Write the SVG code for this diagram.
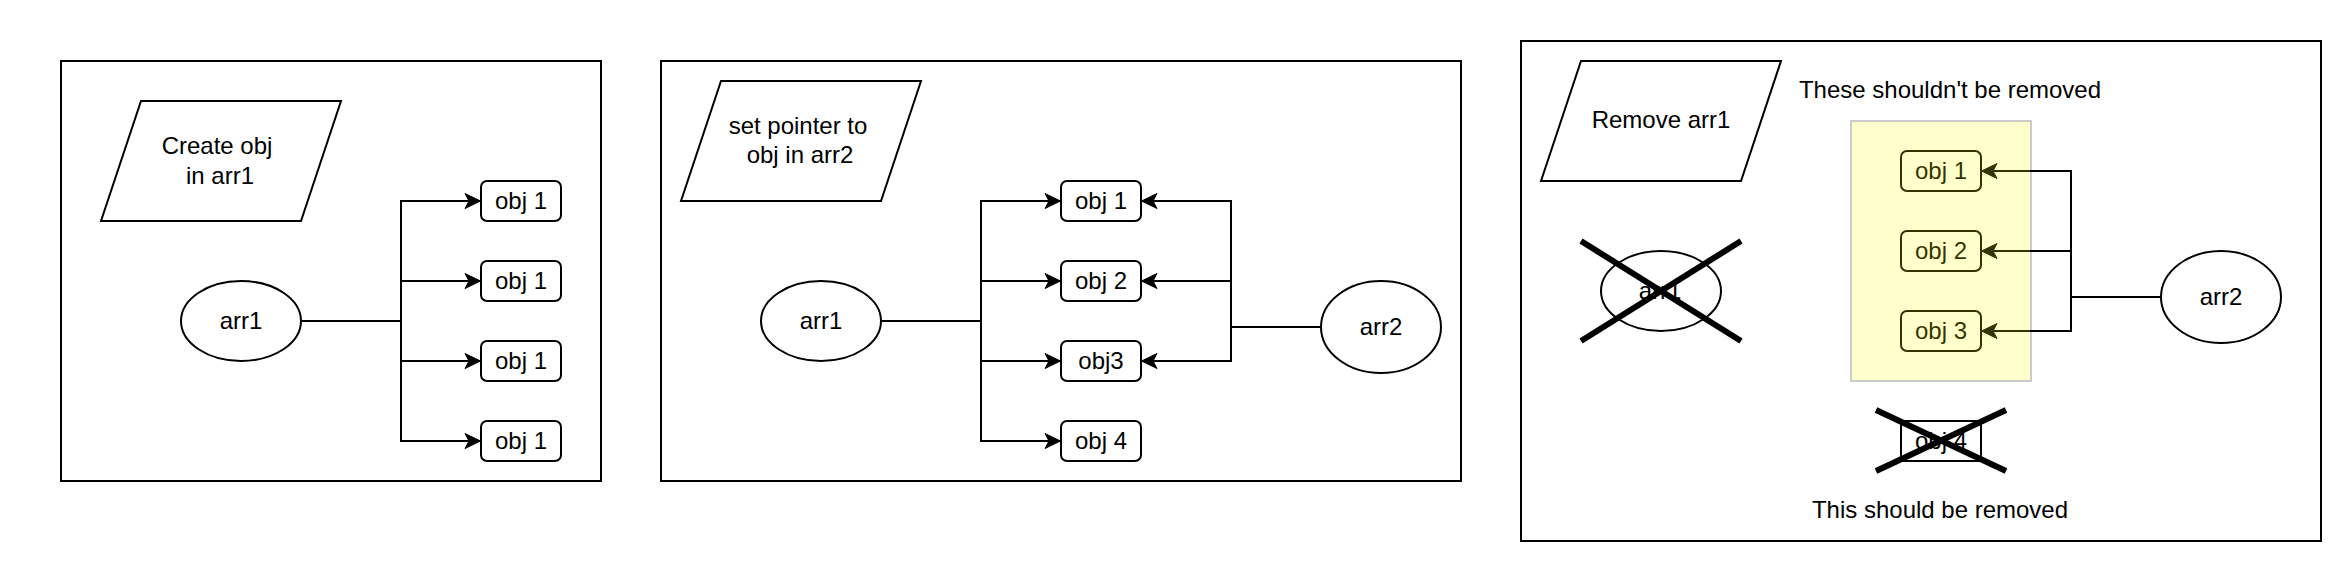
<svg xmlns="http://www.w3.org/2000/svg" width="2342" height="562" viewBox="0 0 2342 562">
<style>
.panel{fill:#fff;stroke:#000;stroke-width:2}
.shape{fill:#fff;stroke:#000;stroke-width:2}
.lbl{font-family:"Liberation Sans",Arial,Helvetica,sans-serif;font-size:24px;text-anchor:middle;fill:#000}
.edge{fill:none;stroke:#000;stroke-width:2;marker-end:url(#arr)}
.cross{stroke:#000;stroke-width:6;stroke-linecap:butt}
.hl{fill:#ffff00;stroke:#000;stroke-width:2;opacity:0.2}
</style>
<defs>
<marker id="arr" markerUnits="userSpaceOnUse" markerWidth="20" markerHeight="18" refX="4" refY="8" orient="auto" overflow="visible">
<path d="M15.5,8 L0,0.5 L4,8 L0,15.5 Z" fill="#000" stroke="#000" stroke-width="1"/>
</marker>
</defs>
<rect width="2342" height="562" fill="#fff"/>

<!-- Panel 1 -->
<g id="panel1"><rect class="panel" x="61" y="61" width="540" height="420"/></g>
<g id="p1-create">
<polygon class="shape" points="141,101 341,101 301,221 101,221"/>
<text class="lbl" x="217" y="154">Create obj</text>
<text class="lbl" x="220" y="184">in arr1</text>
</g>
<g id="p1-arr1"><ellipse class="shape" cx="241" cy="321" rx="60" ry="40"/><text class="lbl" x="241" y="329">arr1</text></g>
<g id="p1-obj1a"><rect class="shape" x="481" y="181" width="80" height="40" rx="6"/><text class="lbl" x="521" y="209">obj 1</text></g>
<g id="p1-obj1b"><rect class="shape" x="481" y="261" width="80" height="40" rx="6"/><text class="lbl" x="521" y="289">obj 1</text></g>
<g id="p1-obj1c"><rect class="shape" x="481" y="341" width="80" height="40" rx="6"/><text class="lbl" x="521" y="369">obj 1</text></g>
<g id="p1-obj1d"><rect class="shape" x="481" y="421" width="80" height="40" rx="6"/><text class="lbl" x="521" y="449">obj 1</text></g>

<!-- Panel 2 -->
<g id="panel2"><rect class="panel" x="661" y="61" width="800" height="420"/></g>
<g id="p2-setptr">
<polygon class="shape" points="721,81 921,81 881,201 681,201"/>
<text class="lbl" x="798" y="134">set pointer to</text>
<text class="lbl" x="800" y="163">obj in arr2</text>
</g>
<g id="p2-arr1"><ellipse class="shape" cx="821" cy="321" rx="60" ry="40"/><text class="lbl" x="821" y="329">arr1</text></g>
<g id="p2-arr2"><ellipse class="shape" cx="1381" cy="327" rx="60" ry="46"/><text class="lbl" x="1381" y="335">arr2</text></g>
<g id="p2-obj1"><rect class="shape" x="1061" y="181" width="80" height="40" rx="6"/><text class="lbl" x="1101" y="209">obj 1</text></g>
<g id="p2-obj2"><rect class="shape" x="1061" y="261" width="80" height="40" rx="6"/><text class="lbl" x="1101" y="289">obj 2</text></g>
<g id="p2-obj3"><rect class="shape" x="1061" y="341" width="80" height="40" rx="6"/><text class="lbl" x="1101" y="369">obj3</text></g>
<g id="p2-obj4"><rect class="shape" x="1061" y="421" width="80" height="40" rx="6"/><text class="lbl" x="1101" y="449">obj 4</text></g>

<!-- Panel 3 -->
<g id="panel3"><rect class="panel" x="1521" y="41" width="800" height="500"/></g>
<g id="p3-remove">
<polygon class="shape" points="1581,61 1781,61 1741,181 1541,181"/>
<text class="lbl" x="1661" y="128">Remove arr1</text>
</g>
<g id="p3-note-keep"><text class="lbl" x="1950" y="98">These shouldn't be removed</text></g>
<g id="p3-note-remove"><text class="lbl" x="1940" y="518">This should be removed</text></g>
<g id="p3-arr1"><ellipse class="shape" cx="1661" cy="291" rx="60" ry="40"/><text class="lbl" x="1660" y="299">arr1</text></g>
<g id="p3-arr2"><ellipse class="shape" cx="2221" cy="297" rx="60" ry="46"/><text class="lbl" x="2221" y="305">arr2</text></g>
<g id="p3-obj1"><rect class="shape" x="1901" y="151" width="80" height="40" rx="6"/><text class="lbl" x="1941" y="179">obj 1</text></g>
<g id="p3-obj2"><rect class="shape" x="1901" y="231" width="80" height="40" rx="6"/><text class="lbl" x="1941" y="259">obj 2</text></g>
<g id="p3-obj3"><rect class="shape" x="1901" y="311" width="80" height="40" rx="6"/><text class="lbl" x="1941" y="339">obj 3</text></g>
<g id="p3-obj4"><rect class="shape" x="1901" y="421" width="80" height="40"/><text class="lbl" x="1941" y="449">obj 4</text></g>

<!-- Connectors -->
<g id="connectors">
<path class="edge" d="M301,321 H401 V201 H469"/>
<path class="edge" d="M301,321 H401 V281 H469"/>
<path class="edge" d="M301,321 H401 V361 H469"/>
<path class="edge" d="M301,321 H401 V441 H469"/>
<path class="edge" d="M881,321 H981 V201 H1049"/>
<path class="edge" d="M881,321 H981 V281 H1049"/>
<path class="edge" d="M881,321 H981 V361 H1049"/>
<path class="edge" d="M881,321 H981 V441 H1049"/>
<path class="edge" d="M1321,327 H1231 V201 H1153"/>
<path class="edge" d="M1321,327 H1231 V281 H1153"/>
<path class="edge" d="M1321,327 H1231 V361 H1153"/>
<path class="edge" d="M2161,297 H2071 V171 H1993"/>
<path class="edge" d="M2161,297 H2071 V251 H1993"/>
<path class="edge" d="M2161,297 H2071 V331 H1993"/>
</g>

<!-- Highlight and crosses -->
<g id="p3-highlight"><rect class="hl" x="1851" y="121" width="180" height="260"/></g>
<g id="p3-cross-arr1">
<line class="cross" x1="1581" y1="241" x2="1741" y2="341"/>
<line class="cross" x1="1741" y1="241" x2="1581" y2="341"/>
</g>
<g id="p3-cross-obj4">
<line class="cross" x1="1876" y1="410" x2="2006" y2="471"/>
<line class="cross" x1="2006" y1="410" x2="1876" y2="471"/>
</g>
</svg>
